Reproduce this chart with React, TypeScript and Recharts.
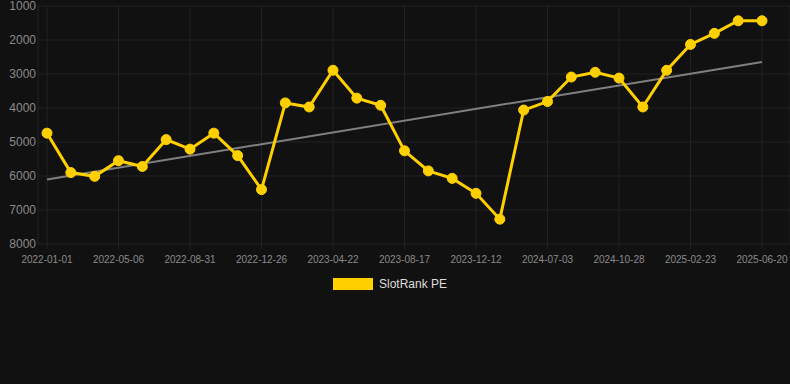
import React from "react";
import { LineChart, Line, XAxis, YAxis, CartesianGrid, Legend } from "recharts";

const dates = [
  "2022-01-01", "2022-02-11", "2022-03-24", "2022-05-06", "2022-06-16", "2022-07-22",
  "2022-08-31", "2022-10-09", "2022-11-17", "2022-12-26", "2023-02-05", "2023-03-14",
  "2023-04-22", "2023-06-01", "2023-07-09", "2023-08-17", "2023-09-26", "2023-11-03",
  "2023-12-12", "2024-02-20", "2024-04-28", "2024-07-03", "2024-08-12", "2024-09-19",
  "2024-10-28", "2024-12-06", "2025-01-15", "2025-02-23", "2025-04-03", "2025-05-12",
  "2025-06-20",
];

const rankValues = [
  4740, 5900, 6010, 5550, 5720, 4930, 5210, 4740, 5400, 6400, 3850,
  3970, 2890, 3710, 3920, 5260, 5850, 6070, 6510, 7270, 4060,
  3810, 3090, 2950, 3120, 3970, 2890, 2130, 1805, 1435, 1435,
];

const trendStart = 6100;
const trendEnd = 2645;

const yTicks = [1000, 2000, 3000, 4000, 5000, 6000, 7000, 8000];
const xTickIndexes = [0, 3, 6, 9, 12, 15, 18, 21, 24, 27, 30];

const seriesName = "SlotRank PE";

const data = dates.map((d, i) => ({
  idx: i,
  date: d,
  rank: rankValues[i],
  trend: i === 0 ? trendStart : i === dates.length - 1 ? trendEnd : null,
}));

const YELLOW = "#FFD000";
const GRID = "#222222";
const FONT = "'Liberation Sans', Arial, Helvetica, sans-serif";

const LegendContent = () => (
  <div
    style={{
      height: 20,
      display: "flex",
      alignItems: "center",
      justifyContent: "center",
      paddingRight: 10,
      fontFamily: FONT,
    }}
  >
    <span style={{ display: "inline-block", width: 40, height: 12, background: YELLOW }} />
    <span style={{ marginLeft: 6, color: "#dddddd", fontSize: 12 }}>{seriesName}</span>
  </div>
);

export default function App() {
  return (
    <div
      style={{
        position: "fixed",
        left: 0,
        top: 0,
        width: 790,
        height: 384,
        background: "#111111",
        fontFamily: FONT,
      }}
    >
      <LineChart
        width={790}
        height={384}
        data={data}
        margin={{ top: 6, right: 0, left: 0, bottom: 90 }}
      >
        <CartesianGrid stroke={GRID} strokeWidth={1} />
        <XAxis
          dataKey="idx"
          type="number"
          domain={[0, 30]}
          ticks={xTickIndexes}
          tickFormatter={(v: number) => dates[v]}
          padding={{ left: 9, right: 28 }}
          axisLine={false}
          tickLine={{ stroke: GRID }}
          tickSize={5}
          tickMargin={7}
          height={30}
          tick={{ fill: "#8a8a8a", fontSize: 10, fontFamily: FONT }}
          interval={0}
        />
        <YAxis
          reversed
          domain={[1000, 8000]}
          ticks={yTicks}
          axisLine={false}
          tickLine={false}
          tickSize={0}
          tickMargin={2}
          width={38}
          tick={{ fill: "#8a8a8a", fontSize: 12, fontFamily: FONT }}
          interval={0}
        />
        <Legend verticalAlign="bottom" content={<LegendContent />} />
        <Line
          type="linear"
          dataKey="trend"
          stroke="#808080"
          strokeWidth={2}
          dot={false}
          activeDot={false}
          connectNulls
          legendType="none"
          isAnimationActive={false}
        />
        <Line
          type="linear"
          dataKey="rank"
          name={seriesName}
          stroke={YELLOW}
          strokeWidth={3}
          dot={{ r: 5, fill: YELLOW, stroke: YELLOW, strokeWidth: 1 }}
          activeDot={false}
          isAnimationActive={false}
        />
      </LineChart>
    </div>
  );
}
